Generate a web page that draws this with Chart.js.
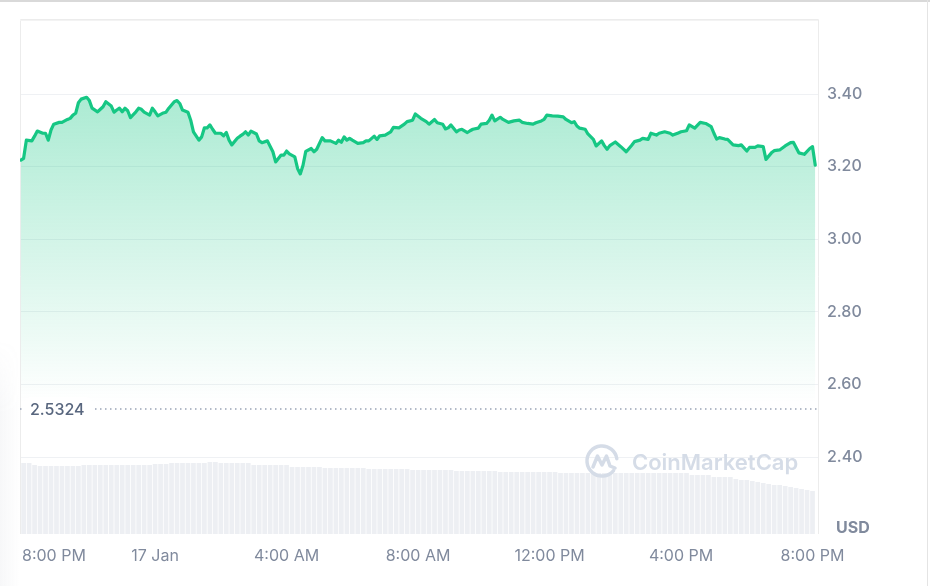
<!DOCTYPE html>
<html><head><meta charset="utf-8">
<script src="https://cdn.jsdelivr.net/npm/chart.js@4.4.1/dist/chart.umd.min.js"></script>
<style>
html,body{margin:0;padding:0;background:#fff;}
#wrap{position:relative;width:930px;height:586px;overflow:hidden;background:#fff;}
#shade{position:absolute;left:0;top:340px;width:20px;height:246px;background:linear-gradient(to right,rgba(120,130,150,0.06),rgba(120,130,150,0));-webkit-mask-image:linear-gradient(to bottom,rgba(0,0,0,0),rgba(0,0,0,1) 30%);mask-image:linear-gradient(to bottom,rgba(0,0,0,0),rgba(0,0,0,1) 30%);}
#topline{position:absolute;left:0;top:0;width:930px;height:2px;background:#d9d9d9;}
#rightline{position:absolute;left:927px;top:0;width:1px;height:586px;background:#e4e4e4;}
canvas{position:absolute;left:0;top:0;}
</style></head><body>
<div id="wrap"><div id="shade"></div><canvas id="c" width="930" height="586"></canvas><div id="topline"></div><div id="rightline"></div></div>
<script>
// minutes since 16 Jan 8:00 PM
const priceTimes = [-5,0,5,15,20,25,35,40,45,50,55,65,70,80,85,90,95,100,105,115,120,125,135,140,145,150,160,165,170,175,180,185,190,195,205,210,215,220,230,235,240,245,255,260,265,275,280,285,290,300,305,310,320,325,330,335,340,345,350,360,365,370,375,380,390,395,400,405,410,415,425,430,435,445,455,460,470,475,480,485,495,500,505,510,515,525,530,535,545,550,560,570,575,580,585,590,595,600,610,620,625,630,640,645,650,660,670,675,685,695,700,710,715,725,735,740,750,755,765,770,775,780,790,795,800,810,815,820,830,835,845,850,855,860,870,875,885,895,905,910,920,930,935,945,950,955,965,975,985,990,1000,1005,1010,1015,1025,1030,1040,1045,1055,1060,1065,1070,1080,1090,1100,1110,1115,1125,1130,1140,1145,1155,1160,1170,1180,1185,1195,1200,1210,1215,1225,1235,1245,1255,1260,1265,1270,1280,1285,1295,1305,1310,1320,1325,1335,1340,1350,1355,1365,1370,1380,1390,1400,1405,1415,1425,1435,1440,1445];
const prices = [3.218,3.223,3.273,3.271,3.284,3.298,3.292,3.292,3.273,3.301,3.317,3.322,3.322,3.330,3.333,3.342,3.347,3.376,3.386,3.391,3.382,3.361,3.351,3.358,3.365,3.379,3.367,3.350,3.356,3.361,3.351,3.361,3.354,3.335,3.351,3.361,3.358,3.350,3.342,3.361,3.351,3.340,3.348,3.350,3.361,3.379,3.382,3.374,3.356,3.350,3.328,3.296,3.273,3.282,3.307,3.307,3.315,3.303,3.292,3.292,3.285,3.294,3.273,3.260,3.278,3.284,3.289,3.296,3.287,3.298,3.290,3.271,3.266,3.271,3.241,3.213,3.232,3.232,3.243,3.235,3.227,3.195,3.180,3.204,3.242,3.250,3.241,3.248,3.280,3.271,3.271,3.264,3.273,3.267,3.282,3.273,3.278,3.273,3.264,3.266,3.271,3.271,3.284,3.275,3.285,3.287,3.296,3.308,3.307,3.317,3.324,3.328,3.345,3.333,3.324,3.317,3.330,3.321,3.317,3.304,3.307,3.315,3.296,3.301,3.303,3.294,3.299,3.303,3.306,3.317,3.319,3.328,3.342,3.326,3.336,3.330,3.322,3.326,3.328,3.322,3.319,3.317,3.321,3.326,3.330,3.342,3.340,3.339,3.337,3.330,3.321,3.324,3.312,3.306,3.303,3.290,3.275,3.257,3.271,3.258,3.248,3.258,3.268,3.255,3.241,3.259,3.269,3.273,3.278,3.275,3.292,3.287,3.292,3.296,3.292,3.287,3.293,3.296,3.299,3.315,3.306,3.322,3.319,3.310,3.292,3.276,3.280,3.276,3.275,3.260,3.258,3.260,3.243,3.253,3.253,3.257,3.255,3.220,3.238,3.244,3.246,3.257,3.266,3.267,3.238,3.234,3.250,3.255,3.204];
// volume bars, one per 10 minutes from 8:00 PM (millions USD, estimated)
const volumeStart = 0;
const volumeStep = 10;
const volumes = [71,71,69,68,68,68,68,68,68,68,68,69,69,69,69,69,69,69,69,69,69,69,69,69,70,70,70,71,71,71,71,71,71,71,72,72,71,71,71,71,71,71,69,69,69,69,69,69,69,67,67,67,67,67,67,66,66,66,66,66,66,66,66,65,65,65,65,65,65,65,65,64,64,64,64,64,64,64,64,63,63,63,63,63,63,63,63,62,62,62,62,62,62,62,62,62,62,62,61,61,61,61,61,61,61,61,61,61,61,61,61,61,61,61,61,61,61,61,61,61,61,61,59,59,59,59,57,57,57,57,55,54,54,53,52,51,50,49,49,48,47,46,45,44,43];
const priceTicks = [2.40,2.60,2.80,3.00,3.20,3.40];
const xTickTimes = [0,240,480,720,960,1200,1440];
const xTickLabels = ['8:00 PM','17 Jan','4:00 AM','8:00 AM','12:00 PM','4:00 PM','8:00 PM'];
const refPrice = 2.5324;
const currencyLabel = 'USD';
const watermarkText = 'CoinMarketCap';

const X_MIN = -6.6, X_MAX = 1450;
const FONT = 'Inter, "Noto Sans", sans-serif';
const TEXT = '#808a9d';

const decor = {
  id: 'decor',
  beforeDatasetsDraw(chart) {
    const {ctx, chartArea: a} = chart;
    ctx.save();
    ctx.strokeStyle = '#ececec';
    ctx.lineWidth = 1;
    ctx.beginPath();
    ctx.moveTo(a.left + 0.5, a.bottom);
    ctx.lineTo(a.left + 0.5, a.top - 0.5);
    ctx.lineTo(a.right + 0.5, a.top - 0.5);
    ctx.lineTo(a.right + 0.5, a.bottom);
    ctx.stroke();
    ctx.strokeStyle = '#f3f3f3';
    ctx.beginPath();
    ctx.moveTo(a.left, a.top + 0.5);
    ctx.lineTo(a.right, a.top + 0.5);
    ctx.stroke();
    ctx.restore();
  },
  afterDatasetsDraw(chart) {
    const {ctx, chartArea: a, scales} = chart;
    ctx.save();
    // watermark
    const wy = 461;
    ctx.strokeStyle = '#d5dce7';
    ctx.lineWidth = 3.5;
    ctx.lineCap = 'round';
    ctx.lineJoin = 'round';
    ctx.beginPath();
    ctx.arc(602, wy, 15, 0.22 * Math.PI, 1.95 * Math.PI);
    ctx.stroke();
    ctx.beginPath();
    ctx.moveTo(593, wy + 6);
    ctx.lineTo(597.5, wy - 5);
    ctx.lineTo(602, wy + 4);
    ctx.lineTo(606.5, wy - 5);
    ctx.lineTo(610, wy + 5);
    ctx.lineTo(615, wy + 7);
    ctx.stroke();
    ctx.fillStyle = '#d5dce7';
    ctx.font = '600 22px ' + FONT;
    ctx.textBaseline = 'alphabetic';
    ctx.textAlign = 'left';
    ctx.fillText(watermarkText, 632, 470);

    // reference price label
    const ry = scales.y.getPixelForValue(refPrice);
    ctx.font = '500 16px ' + FONT;
    const tw = ctx.measureText(refPrice.toFixed(4)).width;
    ctx.fillStyle = '#ffffff';
    const bx = a.left + 4, bw = tw + 14, bh = 24;
    ctx.beginPath();
    ctx.roundRect(bx, ry - bh / 2, bw, bh, 8);
    ctx.fill();
    ctx.fillStyle = '#58667e';
    ctx.textBaseline = 'middle';
    ctx.fillText(refPrice.toFixed(4), bx + 6, ry + 1);

    // currency label
    ctx.font = '700 16px ' + FONT;
    ctx.fillStyle = TEXT;
    ctx.fillText(currencyLabel, a.right + 18, a.bottom - 6);

    // x tick labels
    ctx.font = '400 16px ' + FONT;
    ctx.fillStyle = TEXT;
    xTickTimes.forEach((t, i) => {
      const px = scales.x.getPixelForValue(t);
      const w = ctx.measureText(xTickLabels[i]).width;
      let left = px - w / 2;
      if (left < a.left + 2) left = a.left + 2;
      ctx.fillText(xTickLabels[i], left, a.bottom + 22);
    });
    ctx.restore();
  }
};

const ctx = document.getElementById('c').getContext('2d');
new Chart(ctx, {
  type: 'line',
  data: {
    datasets: [
      {
        label: 'Price',
        yAxisID: 'y',
        data: priceTimes.map((t, i) => ({x: t, y: prices[i]})),
        borderColor: '#16c784',
        borderWidth: 3.2,
        pointRadius: 0,
        tension: 0,
        borderJoinStyle: 'round',
        borderCapStyle: 'round',
        fill: 'start',
        backgroundColor: (c) => {
          const ch = c.chart;
          if (!ch.chartArea) return 'rgba(22,199,132,0.2)';
          const ys = ch.scales.y;
          const g = ch.ctx.createLinearGradient(0, ys.getPixelForValue(3.40), 0, ys.getPixelForValue(2.55));
          g.addColorStop(0, 'rgba(22,199,132,0.36)');
          g.addColorStop(1, 'rgba(22,199,132,0)');
          return g;
        },
        order: 1
      },
      {
        label: 'Reference',
        yAxisID: 'y',
        data: [{x: X_MIN, y: refPrice}, {x: X_MAX, y: refPrice}],
        borderColor: '#9aa4b6',
        borderWidth: 1.5,
        borderDash: [1.5, 3.5],
        pointRadius: 0,
        fill: false,
        order: 2
      },
      {
        type: 'bar',
        label: 'Volume',
        yAxisID: 'yv',
        data: volumes.map((v, i) => ({x: volumeStart + i * volumeStep, y: v})),
        backgroundColor: '#edeff3',
        barPercentage: 1,
        categoryPercentage: 0.86,
        order: 3
      }
    ]
  },
  options: {
    responsive: false,
    animation: false,
    devicePixelRatio: 1,
    layout: {padding: {left: 20, top: 20, right: 0, bottom: 0}},
    plugins: {legend: {display: false}, tooltip: {enabled: false}},
    scales: {
      x: {
        type: 'linear', min: X_MIN, max: X_MAX, offset: false,
        grid: {display: false}, border: {display: false},
        ticks: {display: false},
        afterFit(s) { s.height = 52; }
      },
      y: {
        position: 'right', min: 2.188, max: 3.604,
        afterBuildTicks(s) { s.ticks = priceTicks.map(v => ({value: v})); },
        grid: {color: '#eff1f4', drawTicks: false},
        border: {display: false},
        ticks: {padding: 9, color: TEXT, font: {family: FONT, size: 16, weight: '500'}, callback: v => Number(v).toFixed(2)},
        afterFit(s) { s.width = 112; }
      },
      yv: {display: false, min: 0, max: 514}
    }
  },
  plugins: [decor]
});
</script>
</body></html>
